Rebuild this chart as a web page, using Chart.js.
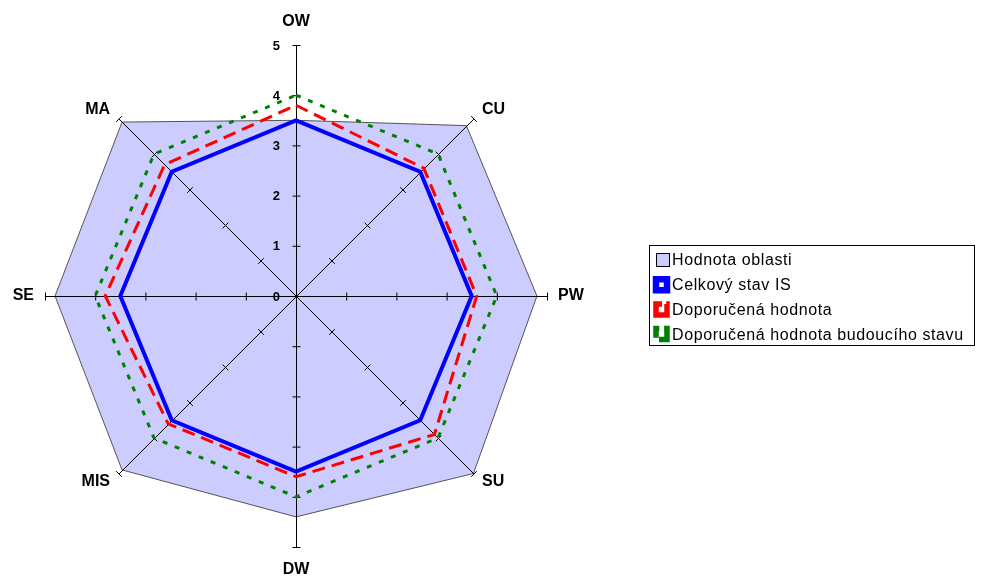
<!DOCTYPE html>
<html>
<head>
<meta charset="utf-8">
<script src="https://cdn.jsdelivr.net/npm/chart.js@4/dist/chart.umd.min.js"></script>
<style>
html, body { margin: 0; padding: 0; background: #fff; }
#wrap { position: relative; width: 982px; height: 588px; }
</style>
</head>
<body>
<div id="wrap"><canvas id="radar" width="982" height="588"></canvas></div>
<script>
var categories = ['OW', 'CU', 'PW', 'SU', 'DW', 'MIS', 'SE', 'MA'];
var areaValues = [3.5, 4.8, 4.8, 5.0, 4.4, 4.9, 4.8, 4.9];
var currentValues = [3.5, 3.5, 3.5, 3.5, 3.5, 3.5, 3.5, 3.5];
var recommendedValues = [3.8, 3.6, 3.6, 3.9, 3.6, 3.6, 3.8, 3.7];
var futureValues = [4.0, 4.0, 4.0, 4.0, 4.0, 4.0, 4.0, 4.0];
var tickLabels = ['0', '1', '2', '3', '4', '5'];
var seriesNames = ['Hodnota oblasti', 'Celkový stav IS', 'Doporučená hodnota', 'Doporučená hodnota budoucího stavu'];

var FONT = 'Arial, "Liberation Sans", sans-serif';

// spokes, tick marks and labels, drawn right after the area fill
var radarDecor = {
    id: 'radarDecor',
    afterDatasetDraw: function (chart, args) {
        if (args.index !== 0) return;
        var scale = chart.scales.r;
        var ctx = chart.ctx;
        var max = tickLabels.length - 1;
        ctx.save();
        ctx.translate(0.5, 0.5);
        ctx.strokeStyle = '#000';
        ctx.lineWidth = 1;
        for (var i = 0; i < categories.length; i++) {
            var tip = scale.getPointPositionForValue(i, max);
            ctx.beginPath();
            ctx.moveTo(scale.xCenter, scale.yCenter);
            ctx.lineTo(tip.x, tip.y);
            ctx.stroke();
            var a = scale.getIndexAngle(i) - Math.PI / 2;
            var px = -Math.sin(a) * 4, py = Math.cos(a) * 4;
            for (var v = 1; v <= max; v++) {
                var p = scale.getPointPositionForValue(i, v);
                ctx.beginPath();
                ctx.moveTo(p.x - px, p.y - py);
                ctx.lineTo(p.x + px, p.y + py);
                ctx.stroke();
            }
        }
        ctx.restore();
    },
    afterDraw: function (chart) {
        var scale = chart.scales.r;
        var ctx = chart.ctx;
        var max = tickLabels.length - 1;
        ctx.save();
        ctx.fillStyle = '#000';

        // value labels along OW axis
        ctx.font = 'bold 13px ' + FONT;
        ctx.textAlign = 'right';
        ctx.textBaseline = 'middle';
        tickLabels.forEach(function (t, v) {
            var p = scale.getPointPositionForValue(0, v);
            ctx.fillText(t, p.x - 16, p.y + 1);
        });

        // category labels
        ctx.font = 'bold 16px ' + FONT;
        for (var i = 0; i < categories.length; i++) {
            var a = scale.getIndexAngle(i) - Math.PI / 2;
            var tip = scale.getPointPositionForValue(i, max);
            var c = Math.cos(a), s = Math.sin(a);
            var x, y;
            if (Math.abs(c) < 0.1) {
                ctx.textAlign = 'center';
                x = tip.x;
                y = tip.y + s * 23;
            } else {
                ctx.textAlign = c > 0 ? 'left' : 'right';
                x = tip.x + c * 12;
                y = tip.y + s * 12;
                if (Math.abs(s) < 0.1) x = tip.x + (c > 0 ? 11 : -11);
            }
            ctx.fillText(categories[i], x, y);
        }

        // legend box
        var lx = 649.5, ly = 245.5, lw = 325, lh = 100;
        ctx.strokeStyle = '#000';
        ctx.lineWidth = 1;
        ctx.strokeRect(lx, ly, lw, lh);
        ctx.font = '16px ' + FONT;
        ctx.letterSpacing = '0.6px';
        ctx.textAlign = 'left';
        chart.data.datasets.forEach(function (ds, k) {
            var cy = 260 + k * 24.7;
            if (ds.fill) {
                ctx.fillStyle = ds.backgroundColor;
                ctx.fillRect(656, cy - 7, 14, 14);
                ctx.strokeStyle = '#000';
                ctx.lineWidth = 1;
                ctx.setLineDash([]);
                ctx.strokeRect(656.5, cy - 6.5, 13, 13);
            } else {
                var l = 656, r = 667, t = cy - 5.5, b = cy + 5.5;
                ctx.strokeStyle = ds.borderColor;
                ctx.lineWidth = ds.borderWidth + 2.5;
                ctx.lineCap = 'butt';
                ctx.lineJoin = 'miter';
                ctx.setLineDash(ds.borderDash ? [ds.borderDash[0] * 2.5, ds.borderDash[1] * 0.6] : []);
                ctx.beginPath();
                ctx.moveTo(r, cy + 1);
                ctx.lineTo(r, b);
                ctx.lineTo(l, b);
                ctx.lineTo(l, t);
                ctx.lineTo(r, t);
                ctx.lineTo(r, cy + 1);
                ctx.closePath();
                ctx.stroke();
            }
            ctx.setLineDash([]);
            ctx.fillStyle = '#000';
            ctx.fillText(ds.label, 672, cy + 1);
        });
        ctx.restore();
    }
};

new Chart(document.getElementById('radar'), {
    type: 'radar',
    data: {
        labels: categories,
        datasets: [
            {
                label: seriesNames[0],
                data: areaValues,
                order: 1,
                fill: true,
                backgroundColor: '#CCCCFF',
                borderColor: '#555555',
                borderWidth: 1,
                pointRadius: 0
            },
            {
                label: seriesNames[1],
                data: currentValues,
                fill: false,
                borderColor: '#0000FF',
                borderWidth: 4,
                pointRadius: 0
            },
            {
                label: seriesNames[2],
                data: recommendedValues,
                fill: false,
                borderColor: '#FF0000',
                borderWidth: 3,
                borderDash: [13, 7],
                pointRadius: 0
            },
            {
                label: seriesNames[3],
                data: futureValues,
                fill: false,
                borderColor: '#008000',
                borderWidth: 3,
                borderDash: [5, 8],
                pointRadius: 0
            }
        ]
    },
    options: {
        responsive: false,
        animation: false,
        layout: { padding: { left: 45, top: 45, right: 435, bottom: 41 } },
        elements: { line: { tension: 0, borderJoinStyle: 'miter' } },
        plugins: { legend: { display: false }, tooltip: { enabled: false } },
        scales: {
            r: {
                min: 0,
                max: 5,
                ticks: { display: false, stepSize: 1 },
                grid: { display: false },
                angleLines: { display: false },
                pointLabels: { display: false }
            }
        }
    },
    plugins: [radarDecor]
});
</script>
</body>
</html>
